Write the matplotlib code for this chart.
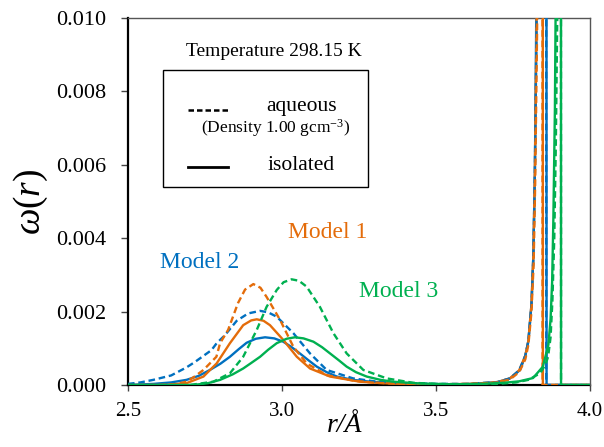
import matplotlib
matplotlib.use("Agg")
import matplotlib.pyplot as plt
from matplotlib.patches import Rectangle
from matplotlib.lines import Line2D

plt.rcParams['font.family'] = ['Liberation Serif', 'DejaVu Serif']
plt.rcParams['mathtext.fontset'] = 'custom'
plt.rcParams['mathtext.rm'] = 'Liberation Serif'
plt.rcParams['mathtext.it'] = 'Liberation Serif:italic'

# ---------------- data ----------------
r_m1_aq = [2.50, 2.60, 2.65, 2.69, 2.716, 2.745, 2.787, 2.799, 2.825, 2.857, 2.880, 2.907, 2.930, 2.950,
           2.994, 3.037, 3.080, 3.145, 3.231, 3.30, 3.40, 3.50, 3.60, 3.70, 3.74, 3.77, 3.79, 3.80,
           3.81, 3.817, 3.822, 3.828, 3.834, 3.845, 3.846, 4.00]
w_m1_aq = [0.0, 0.0, 0.00002, 0.00009, 0.00023, 0.00041, 0.00077, 0.00114, 0.0015, 0.00223, 0.0026,
           0.00275, 0.00265, 0.0024, 0.00177, 0.00104, 0.00059, 0.00027, 0.00012, 0.00006, 0.00003,
           0.00002, 0.00003, 0.00007, 0.00015, 0.00035, 0.0007, 0.0011, 0.002, 0.0033, 0.0055,
           0.0095, 0.016, 0.05, 0.0, 0.0]

r_m1_iso = [2.50, 2.62, 2.69, 2.745, 2.788, 2.831, 2.874, 2.90, 2.918, 2.94, 2.961, 3.004, 3.048,
            3.091, 3.156, 3.253, 3.35, 3.45, 3.55, 3.65, 3.70, 3.74, 3.77, 3.79, 3.80, 3.81, 3.816,
            3.821, 3.826, 3.832, 3.846, 3.847, 4.00]
w_m1_iso = [0.0, 0.0, 0.00005, 0.00023, 0.00059, 0.00114, 0.00163, 0.00176, 0.00179, 0.00175,
            0.00163, 0.00123, 0.00077, 0.00045, 0.00023, 0.00009, 0.00004, 0.00002, 0.00002,
            0.00004, 0.00008, 0.00018, 0.0004, 0.0008, 0.0012, 0.0022, 0.0035, 0.0058, 0.0095,
            0.016, 0.05, 0.0, 0.0]

r_m2_aq = [2.50, 2.54, 2.582, 2.64, 2.69, 2.716, 2.771, 2.788, 2.814, 2.853, 2.89, 2.929, 2.955,
           2.983, 3.037, 3.091, 3.145, 3.231, 3.30, 3.394, 3.50, 3.60, 3.70, 3.74, 3.77, 3.79,
           3.80, 3.81, 3.816, 3.821, 3.826, 3.832, 3.857, 3.858, 4.00]
w_m2_aq = [0.00003, 0.00007, 0.00014, 0.00026, 0.00048, 0.00062, 0.00095, 0.00114, 0.00135, 0.00175,
           0.00195, 0.00202, 0.00198, 0.00186, 0.00141, 0.00086, 0.00041, 0.00018, 0.0001, 0.00005,
           0.00003, 0.00003, 0.00008, 0.00018, 0.0004, 0.0008, 0.0012, 0.0022, 0.0035, 0.0058,
           0.0095, 0.016, 0.05, 0.0, 0.0]

r_m2_iso = [2.50, 2.582, 2.64, 2.69, 2.73, 2.766, 2.80, 2.831, 2.86, 2.885, 2.915, 2.945, 2.975,
            3.004, 3.03, 3.058, 3.085, 3.113, 3.145, 3.178, 3.23, 3.286, 3.38, 3.50, 3.60, 3.70,
            3.74, 3.773, 3.79, 3.80, 3.81, 3.816, 3.821, 3.825, 3.830, 3.858, 3.859, 4.00]
w_m2_iso = [0.0, 0.00003, 0.00007, 0.00014, 0.00025, 0.00041, 0.00058, 0.00077, 0.00098, 0.00115,
            0.00126, 0.0013, 0.00127, 0.00118, 0.00104, 0.00086, 0.00068, 0.0005, 0.00035, 0.00023,
            0.00014, 0.00009, 0.00004, 0.00002, 0.00002, 0.00008, 0.00018, 0.00041, 0.0008,
            0.0012, 0.0022, 0.0035, 0.0058, 0.0095, 0.016, 0.05, 0.0, 0.0]

r_m3_aq = [2.50, 2.70, 2.777, 2.831, 2.874, 2.918, 2.95, 2.983, 3.005, 3.031, 3.055, 3.08, 3.123,
           3.167, 3.21, 3.264, 3.34, 3.426, 3.50, 3.60, 3.70, 3.76, 3.80, 3.838, 3.855, 3.864,
           3.872, 3.878, 3.884, 3.889, 3.895, 3.905, 3.906, 4.00]
w_m3_aq = [0.0, 0.0, 0.00009, 0.00032, 0.00077, 0.0015, 0.00213, 0.00259, 0.0028, 0.00288,
           0.00284, 0.00268, 0.00213, 0.00141, 0.00086, 0.00041, 0.00018, 0.00006, 0.00003,
           0.00002, 0.00003, 0.00007, 0.00014, 0.00032, 0.00055, 0.00077, 0.0013, 0.0023,
           0.004, 0.0065, 0.011, 0.05, 0.0, 0.0]

r_m3_iso = [2.50, 2.712, 2.76, 2.799, 2.84, 2.874, 2.90, 2.929, 2.955, 2.983, 3.015, 3.042, 3.07,
            3.102, 3.13, 3.156, 3.185, 3.21, 3.24, 3.275, 3.32, 3.361, 3.45, 3.55, 3.65, 3.72,
            3.77, 3.815, 3.847, 3.865, 3.872, 3.877, 3.881, 3.886, 3.890, 3.905, 3.906, 4.00]
w_m3_iso = [0.0, 0.0, 0.00005, 0.00014, 0.00029, 0.00045, 0.0006, 0.00077, 0.00096, 0.00114,
            0.00126, 0.0013, 0.00127, 0.00118, 0.00103, 0.00086, 0.00067, 0.0005, 0.00035,
            0.00023, 0.00014, 0.00009, 0.00004, 0.00002, 0.00003, 0.00006, 0.0001, 0.00019,
            0.0005, 0.0011, 0.0018, 0.0028, 0.0045, 0.0075, 0.012, 0.05, 0.0, 0.0]

x_ticks = [2.5, 3.0, 3.5, 4.0]
x_tick_labels = ['2.5', '3.0', '3.5', '4.0']
y_ticks = [0.000, 0.002, 0.004, 0.006, 0.008, 0.010]
y_tick_labels = ['0.000', '0.002', '0.004', '0.006', '0.008', '0.010']

model_names = ['Model 1', 'Model 2', 'Model 3']
model_label_r = [3.149, 2.734, 3.38]
model_label_w = [0.00415, 0.00335, 0.00254]

ORANGE = '#E46C0A'
BLUE = '#0070C0'
GREEN = '#00B050'
colors = [ORANGE, BLUE, GREEN]

# ---------------- figure ----------------
fig = plt.figure(figsize=(6.04, 4.47), dpi=100)
ax = fig.add_axes([128 / 604, 1 - 385 / 447, 462 / 604, 367 / 447])

dash = (0, (2.8, 1.6))
lw = 1.7
ax.plot(r_m2_iso, w_m2_iso, color=BLUE, lw=lw, zorder=3)
ax.plot(r_m1_iso, w_m1_iso, color=ORANGE, lw=lw, zorder=3)
ax.plot(r_m2_aq, w_m2_aq, color=BLUE, lw=lw, ls=dash, zorder=3)
ax.plot(r_m1_aq, w_m1_aq, color=ORANGE, lw=lw, ls=dash, zorder=3)
ax.plot(r_m3_aq, w_m3_aq, color=GREEN, lw=lw, ls=dash, zorder=3)
ax.plot(r_m3_iso, w_m3_iso, color=GREEN, lw=lw, zorder=3)

ax.set_xlim(2.5, 4.0)
ax.set_ylim(0.0, 0.010)
ax.set_xticks(x_ticks)
ax.set_xticklabels(x_tick_labels)
ax.set_yticks(y_ticks)
ax.set_yticklabels(y_tick_labels)
ax.tick_params(axis='x', direction='out', labelsize=15, length=4, width=1, color='#444444', pad=8)
ax.tick_params(axis='y', direction='out', labelsize=16, length=5, width=1, color='#444444', pad=11)

for s in ['left', 'bottom']:
    ax.spines[s].set_linewidth(1.6)
    ax.spines[s].set_color('black')
    ax.spines[s].set_zorder(2)
for s in ['top', 'right']:
    ax.spines[s].set_linewidth(1.0)
    ax.spines[s].set_color('#555555')

ax.set_ylabel(r'$\omega(r)$', fontsize=27, labelpad=4)
ax.set_xlabel('r/Å', fontsize=20, fontstyle='italic', labelpad=0)


def fx(px):
    return (px - 128) / 462


def fy(py):
    return (385 - py) / 367


ax.xaxis.set_label_coords(fx(345), fy(425), transform=ax.transAxes)
ax.xaxis.label.set_va('center')

for name, rx, wy, c in zip(model_names, model_label_r, model_label_w, colors):
    ax.text(rx, wy, name, color=c, fontsize=17, ha='center', va='center')

# temperature and custom legend box (axes fraction)
ax.text(fx(274), fy(51), 'Temperature 298.15 K', fontsize=14, ha='center', va='center',
        transform=ax.transAxes)
ax.add_patch(Rectangle((fx(163), fy(187)), fx(368) - fx(163), fy(70) - fy(187),
                       transform=ax.transAxes, fill=False, edgecolor='black', lw=1.0, zorder=4))
ax.add_line(Line2D([fx(188), fx(228)], [fy(110), fy(110)], transform=ax.transAxes,
                   color='black', lw=1.8, ls=(0, (2.2, 1.2)), zorder=4))
ax.add_line(Line2D([fx(188), fx(228)], [fy(167), fy(167)], transform=ax.transAxes,
                   color='black', lw=2.0, zorder=4))
ax.text(fx(302), fy(107), 'aqueous', fontsize=15.5, ha='center', va='center', transform=ax.transAxes)
ax.text(fx(276), fy(128), r'(Density 1.00 gcm$^{\mathregular{-3}}$)', fontsize=12.5,
        ha='center', va='center', transform=ax.transAxes)
ax.text(fx(301), fy(166), 'isolated', fontsize=15.5, ha='center', va='center', transform=ax.transAxes)

fig.savefig('out.png', dpi=100)
